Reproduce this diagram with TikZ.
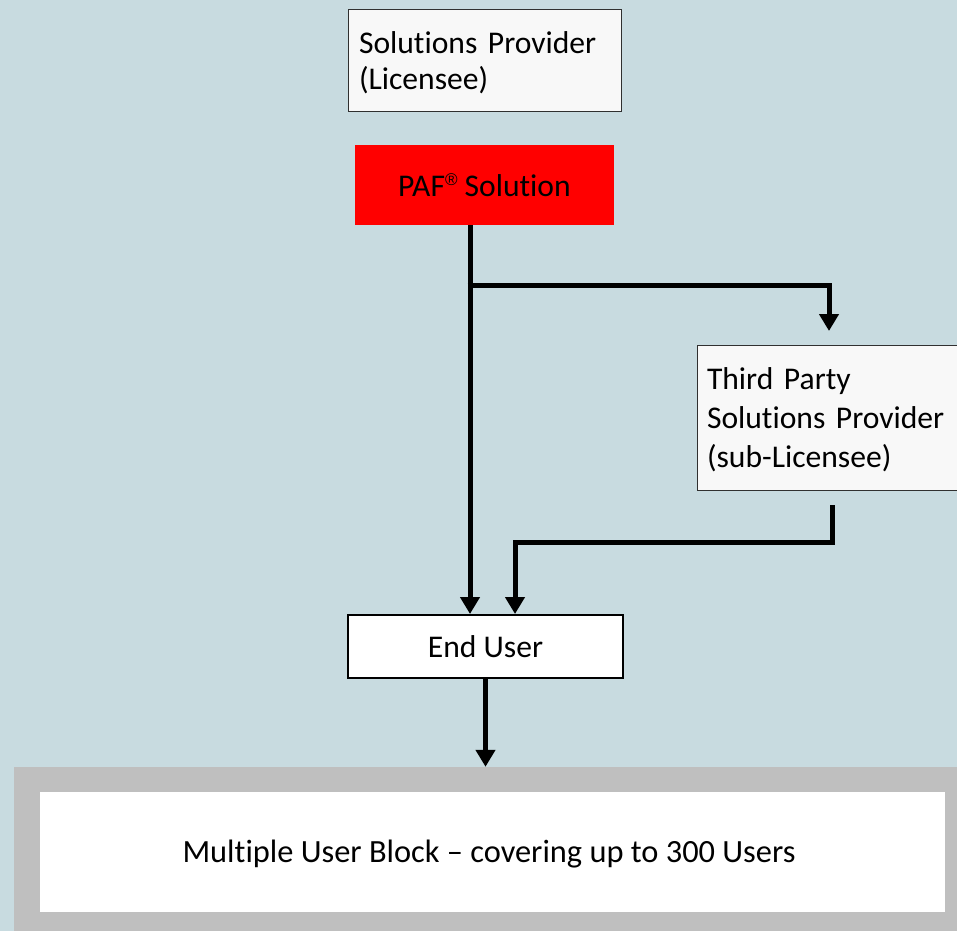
\documentclass[tikz,border=0pt]{standalone}
\usepackage{fontspec}
\setmainfont{Carlito}[Ligatures=NoCommon]
\newfontfamily\regfont{Liberation Sans}
\usetikzlibrary{arrows.meta}
\definecolor{bgc}{HTML}{C8DBE0}
\definecolor{greyblk}{HTML}{BFBFBF}
\definecolor{spfill}{HTML}{F8F8F8}
\definecolor{spdraw}{HTML}{303030}
\newcommand{\regmark}{\raisebox{0.36em}{\regfont\fontsize{17}{17}\selectfont ®}}
\begin{document}
\begin{tikzpicture}[x=1pt,y=-1pt,
  every node/.style={font=\fontsize{31.6}{38}\selectfont, inner sep=0pt, rectangle},
  arr/.style={line width=5pt, -{Triangle[width=19pt,length=17pt]}}]
\fill[bgc] (0,0) rectangle (957,931);
\useasboundingbox (0,0) rectangle (957,931);
\node[fill=spfill, draw=spdraw, line width=1pt, minimum width=273pt, minimum height=102pt, text width=251pt, align=left] (sp) at (484.5,61) {};
\node[text width=251pt, align=left, font=\fontsize{31.6}{36}\selectfont] (spt) at (484.5,63) {Solutions Provider\\(Licensee)};
\node[fill=red, minimum width=259pt, minimum height=80pt] (paf) at (484.5,185) {PAF\regmark\ Solution};
\node[fill=spfill, draw=spdraw, line width=1pt, minimum width=260pt, minimum height=145pt, text width=240pt, align=left] (tp) at (827,417.5) {};
\node[text width=240pt, align=left, font=\fontsize{31.6}{39}\selectfont] (tpt) at (827,420) {Third Party\\Solutions Provider\\(sub-Licensee)};
\node[fill=white, draw=black, line width=2pt, minimum width=275pt, minimum height=63pt] (eu) at (485.5,646.5) {End User};
\node[fill=greyblk, minimum width=943pt, minimum height=164pt] (blk) at (485.5,849) {};
\node[fill=white, minimum width=905pt, minimum height=120pt] (mub) at (492.5,852) {};
\node[font=\fontsize{32.4}{38}\selectfont] (mubt) at (489,854) {Multiple User Block -- covering up to 300 Users};
\coordinate (j1) at (470,285);
\coordinate (tpin) at (829,331);
\coordinate (tpout) at (832,505);
\coordinate (k) at (515,542);
\draw[arr] (paf.south -| j1) -- (eu.north -| j1);
\draw[arr] ([xshift=-2.5pt]j1) -| (tpin);
\draw[arr] (tpout) |- (k) -- (eu.north -| k);
\draw[arr] (eu.south) -- (blk.north -| eu.south);
\end{tikzpicture}
\end{document}
